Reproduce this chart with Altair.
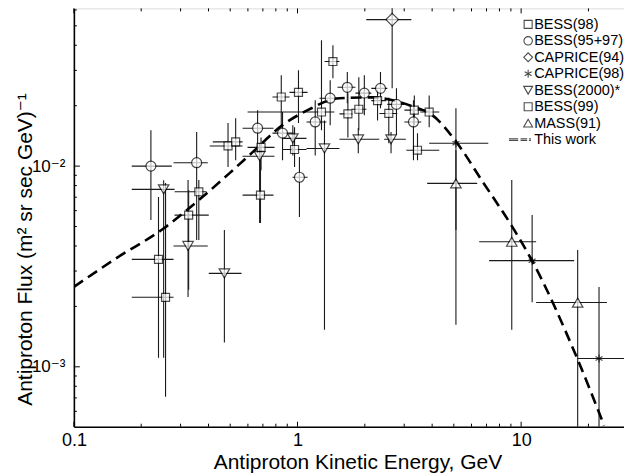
import altair as alt
import pandas as pd

# ---------------- data ----------------
# BESS(98) squares
bess98_E   = [0.239, 0.326, 0.489, 0.687, 0.846, 1.28, 1.68, 2.28, 3.33, 3.44]
bess98_F   = [0.00343, 0.0057, 0.0126, 0.0124, 0.0221, 0.0186, 0.0182, 0.0212, 0.0190, 0.0120]
bess98_Elo = [0.1815, 0.282, 0.405, 0.598, 0.773, 0.598, 1.540, 2.138, 3.005, 3.068]
bess98_Ehi = [0.279, 0.401, 0.568, 0.789, 0.921, 1.462, 1.761, 2.496, 3.767, 4.305]
bess98_Flo = [0.00111, 0.00242, 0.00989, 0.00955, 0.0156, 0.0151, 0.0139, 0.0169, 0.0160, 0.0107]
bess98_Fhi = [0.00701, 0.00760, 0.0164, 0.0139, 0.0284, 0.0424, 0.0231, 0.0239, 0.0225, 0.0146]

# BESS(95+97) circles
bess9597_E   = [0.221, 0.354, 0.663, 0.857, 1.02, 1.20, 1.40, 1.67, 1.99, 2.35, 2.77, 3.30]
bess9597_F   = [0.0100, 0.0104, 0.01545, 0.0146, 0.0088, 0.0166, 0.0218, 0.0247, 0.0231, 0.0244, 0.0203, 0.0166]
bess9597_Elo = [0.1815, 0.279, 0.568, 0.773, 0.950, 1.097, 1.254, 1.509, 1.816, 2.138, 2.521, 3.005]
bess9597_Ehi = [0.274, 0.397, 0.781, 0.960, 1.109, 1.347, 1.556, 1.816, 2.138, 2.521, 3.005, 3.578]
bess9597_Flo = [0.00539, 0.00428, 0.0116, 0.0107, 0.00557, 0.0113, 0.0160, 0.0206, 0.0179, 0.0194, 0.0143, 0.0107]
bess9597_Fhi = [0.0151, 0.0148, 0.0190, 0.0186, 0.0111, 0.0213, 0.0268, 0.0294, 0.0284, 0.0294, 0.0244, 0.0213]

# CAPRICE(94) diamond
caprice94_E   = [2.65]
caprice94_F   = [0.0537]
caprice94_Elo = [2.03]
caprice94_Ehi = [3.23]
caprice94_Flo = [0.0244]
caprice94_Fhi = [0.07]

# CAPRICE(98) asterisks
caprice98_E   = [5.11, 11.2, 22.3]
caprice98_F   = [0.0130, 0.00338, 0.0011]
caprice98_Elo = [3.88, 7.19, 17.95]
caprice98_Ehi = [7.13, 17.26, 30.0]
caprice98_Flo = [0.00481, 0.00210, 0.0004]
caprice98_Fhi = [0.0194, 0.00570, 0.00250]

# BESS(2000)* down triangles
bess2000_E   = [0.252, 0.324, 0.471, 0.677, 0.953, 1.32, 1.87, 2.62]
bess2000_F   = [0.00766, 0.0040, 0.00292, 0.0112, 0.01375, 0.01225, 0.0136, 0.0136]
bess2000_Elo = [0.1815, 0.279, 0.401, 0.568, 0.857, 1.097, 1.54, 2.44]
bess2000_Ehi = [0.282, 0.397, 0.562, 0.789, 1.097, 1.54, 2.32, 3.05]
bess2000_Flo = [0.00111, 0.00223, 0.00132, 0.00520, 0.0113, 0.00153, 0.0116, 0.0116]
bess2000_Fhi = [0.0085, 0.00852, 0.00481, 0.0130, 0.0160, 0.0169, 0.0155, 0.0148]

# BESS(99) squares
bess99_E   = [0.257, 0.362, 0.529, 0.683, 1.01, 0.97, 1.44, 1.88, 2.56, 3.88]
bess99_F   = [0.00222, 0.00745, 0.0132, 0.00717, 0.0233, 0.0121, 0.0332, 0.0192, 0.0183, 0.0186]
bess99_Elo = [0.1815, 0.282, 0.418, 0.568, 0.921, 0.857, 1.321, 1.742, 2.323, 3.540]
bess99_Ehi = [0.279, 0.392, 0.568, 0.781, 1.109, 1.097, 1.540, 2.032, 2.794, 4.305]
bess99_Flo = [0.00071, 0.00428, 0.0107, 0.00520, 0.0164, 0.00989, 0.0274, 0.0151, 0.0130, 0.0156]
bess99_Fhi = [0.00823, 0.00852, 0.0173, 0.0107, 0.0300, 0.0156, 0.0400, 0.0277, 0.0220, 0.0225]

# MASS(91) up triangles
mass91_E   = [5.11, 9.08, 17.9]
mass91_F   = [0.0082, 0.0042, 0.00209]
mass91_Elo = [3.80, 6.49, 11.67]
mass91_Ehi = [6.36, 11.67, 24.2]
mass91_Flo = [0.00162, 0.00153, 0.0004]
mass91_Fhi = [0.0120, 0.00852, 0.00382]

# "This work" dashed curve
model_E = [0.1, 0.1556, 0.250, 0.362, 0.497, 0.630, 0.857, 1.11, 1.54, 2.17,
           2.66, 3.33, 4.02, 5.13, 6.70, 9.31, 11.2, 17.7, 23.5]
model_F = [0.00250, 0.00349, 0.00486, 0.00677, 0.00923, 0.01174, 0.0160, 0.0190,
           0.0218, 0.0220, 0.0213, 0.0197, 0.0179, 0.0132, 0.00842, 0.00481,
           0.00337, 0.00112, 0.00051]

series_order = ["BESS(98)", "BESS(95+97)", "CAPRICE(94)", "CAPRICE(98)",
                "BESS(2000)*", "BESS(99)", "MASS(91)", "This work"]

# axis tick values
x_major = [0.1, 1, 10]
x_minor = [0.2, 0.3, 0.4, 0.5, 0.6, 0.7, 0.8, 0.9, 2, 3, 4, 5, 6, 7, 8, 9, 20]
y_major = [0.001, 0.01]
y_minor = [0.0006, 0.0007, 0.0008, 0.0009, 0.002, 0.003, 0.004, 0.005, 0.006,
           0.007, 0.008, 0.009, 0.02, 0.03, 0.04, 0.05, 0.06]

# ---------------- build table ----------------
groups = [
    ("BESS(98)", bess98_E, bess98_F, bess98_Elo, bess98_Ehi, bess98_Flo, bess98_Fhi),
    ("BESS(95+97)", bess9597_E, bess9597_F, bess9597_Elo, bess9597_Ehi, bess9597_Flo, bess9597_Fhi),
    ("CAPRICE(94)", caprice94_E, caprice94_F, caprice94_Elo, caprice94_Ehi, caprice94_Flo, caprice94_Fhi),
    ("CAPRICE(98)", caprice98_E, caprice98_F, caprice98_Elo, caprice98_Ehi, caprice98_Flo, caprice98_Fhi),
    ("BESS(2000)*", bess2000_E, bess2000_F, bess2000_Elo, bess2000_Ehi, bess2000_Flo, bess2000_Fhi),
    ("BESS(99)", bess99_E, bess99_F, bess99_Elo, bess99_Ehi, bess99_Flo, bess99_Fhi),
    ("MASS(91)", mass91_E, mass91_F, mass91_Elo, mass91_Ehi, mass91_Flo, mass91_Fhi),
]
rows = []
for name, E, F, Elo, Ehi, Flo, Fhi in groups:
    for i in range(len(E)):
        rows.append(dict(series=name, E=E[i], F=F[i], Elo=Elo[i], Ehi=Ehi[i],
                         Flo=Flo[i], Fhi=Fhi[i]))
df = pd.DataFrame(rows)
model = pd.DataFrame({"E": model_E, "F": model_F})

FONT = "Liberation Sans, Arial, Helvetica, DejaVu Sans, sans-serif"
XDOM = [0.1, 28.84]
YDOM = [0.000503, 0.0611]
xs = alt.Scale(type="log", domain=XDOM, nice=False)
ys = alt.Scale(type="log", domain=YDOM, nice=False)

dash_path = ("M-4.8,-0.2H-2.5M-4.8,0.2H-2.5"
             "M-1.9,-0.2H-0.25M-1.9,0.2H-0.25"
             "M0.2,-0.2H0.7M0.2,0.2H0.7")
star_path = "M0,-1V1M-0.87,-0.5L0.87,0.5M-0.87,0.5L0.87,-0.5"
shape_range = ["square", "circle", "diamond", star_path, "triangle-down",
               "square", "triangle-up", dash_path]
marker_size = {"BESS(98)": 64, "BESS(95+97)": 100, "CAPRICE(94)": 160,
               "CAPRICE(98)": 64, "BESS(2000)*": 110, "BESS(99)": 64,
               "MASS(91)": 110}
legend_size = [64, 72, 80, 64, 80, 64, 80, 64]

xaxis = alt.Axis(values=x_major, title="Antiproton Kinetic Energy, GeV",
                 labelExpr="datum.value < 0.5 ? '0.1' : (datum.value < 5 ? '1' : '10')",
                 ticks=False, grid=False, labelFontSize=18, labelFont=FONT,
                 labelColor="black", labelPadding=5, domainColor="black",
                 domainWidth=1.6, titleFont=FONT, titleFontSize=21,
                 titleFontWeight="normal", titleColor="black",
                 titleX=284, titleY=42, titleBaseline="alphabetic",
                 titleAlign="center", labelFlush=False)
yaxis = alt.Axis(values=y_major, title="Antiproton Flux (m² sr sec GeV)⁻¹",
                 labelExpr="datum.value < 0.005 ? '10⁻³' : '10⁻²'",
                 ticks=False, grid=False, labelFontSize=17, labelFont=FONT,
                 labelColor="black", labelPadding=9, domainColor="black",
                 domainWidth=1.6, titleFont=FONT, titleFontSize=21,
                 titleFontWeight="normal", titleColor="black",
                 titleX=-42, titleY=241, titleAngle=270,
                 titleBaseline="alphabetic", titleAlign="center", labelFlush=False)

base = alt.Chart(df)

xerr = base.mark_rule(color="#1a1a1a", strokeWidth=1.1, clip=True).encode(
    x=alt.X("Elo:Q", scale=xs, axis=xaxis),
    x2="Ehi:Q",
    y=alt.Y("F:Q", scale=ys, axis=yaxis),
)
yerr = base.mark_rule(color="#1a1a1a", strokeWidth=1.1, clip=True).encode(
    x=alt.X("E:Q", scale=xs),
    y=alt.Y("Flo:Q", scale=ys),
    y2="Fhi:Q",
)

shape_enc = alt.Shape("series:N",
                      scale=alt.Scale(domain=series_order, range=shape_range),
                      legend=None)

point_layers = []
for name, *_ in groups:
    point_layers.append(
        base.transform_filter(alt.datum.series == name).mark_point(
            filled=True, fill="white", stroke="black",
            strokeWidth=1.2, size=marker_size[name]).encode(
            x=alt.X("E:Q", scale=xs),
            y=alt.Y("F:Q", scale=ys),
            shape=shape_enc,
        )
    )

curve = alt.Chart(model).mark_line(color="black", strokeWidth=2.6,
                                   strokeDash=[11, 6], clip=True,
                                   interpolate="monotone").encode(
    x=alt.X("E:Q", scale=xs),
    y=alt.Y("F:Q", scale=ys),
)

H = 419
def yticks(vals, length):
    return alt.Chart(pd.DataFrame({"v": vals})).mark_rule(color="black", strokeWidth=1).encode(
        y=alt.Y("v:Q", scale=ys), x=alt.value(0), x2=alt.value(length))

def xticks(vals, y0, y1):
    return alt.Chart(pd.DataFrame({"v": vals})).mark_rule(color="black", strokeWidth=1).encode(
        x=alt.X("v:Q", scale=xs), y=alt.value(y0), y2=alt.value(y1))

ticks = [
    yticks(y_major, 6), yticks(y_minor, 3),
    xticks(x_major, H, H - 5), xticks(x_minor, H, H - 3),
    xticks(x_major, 0, 5), xticks(x_minor, 0, 3),
]

# legend (top right, inside the frame)
LEG_SYM_X, LEG_TXT_X, LEG_Y0, LEG_DY = 455, 461, 16, 16.5
legend_layers = []
for i, name in enumerate(series_order):
    ly = LEG_Y0 + LEG_DY * i
    one = alt.Chart(pd.DataFrame({"label": [name]}))
    legend_layers.append(
        one.mark_point(shape=shape_range[i], size=legend_size[i], filled=True,
                       fill="white", stroke="black", strokeWidth=1.1).encode(
            x=alt.value(LEG_SYM_X), y=alt.value(ly)))
    legend_layers.append(
        one.mark_text(align="left", baseline="middle", font=FONT,
                      fontSize=14.5, color="black").encode(
            text="label:N", x=alt.value(LEG_TXT_X), y=alt.value(ly + 0.5)))

chart = alt.layer(xerr, yerr, curve, *point_layers, *ticks, *legend_layers).properties(
    width=551, height=H,
    padding={"left": 74, "top": 8, "right": 0, "bottom": 48},
    autosize="none",
).configure_view(stroke="black", strokeWidth=1.3).configure(
    background="white", font=FONT)

chart.save("out.html", embed_options={"renderer": "svg", "actions": False})
